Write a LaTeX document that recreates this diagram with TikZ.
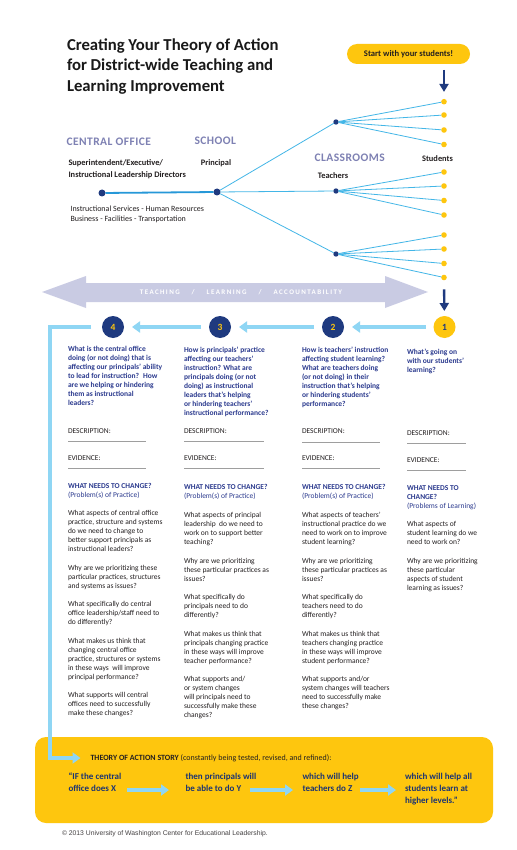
\documentclass[tikz,border=0pt]{standalone}
\usepackage{fontspec}
\setmainfont{Carlito}
\newfontfamily\arialfont{Liberation Sans}
\newfontfamily\spacedfont[LetterSpace=4]{Carlito}
\newfontfamily\bandfont[LetterSpace=20]{Carlito}
\usetikzlibrary{arrows.meta}
\definecolor{navy}{HTML}{1F3A7F}
\definecolor{qblue}{HTML}{2B3A8E}
\definecolor{lav}{HTML}{7E81B3}
\definecolor{bandc}{HTML}{C9CBE3}
\definecolor{gold}{HTML}{FEC60E}
\definecolor{lblue}{HTML}{8FD6F4}
\definecolor{treec}{HTML}{43B6E7}
\definecolor{trunk}{HTML}{2698D8}
\definecolor{txt}{HTML}{231F20}
\tikzset{
  every node/.style={inner sep=0pt, outer sep=0pt},
  bigdot/.style={circle, fill=navy, minimum size=7pt},
  tdot/.style={circle, fill=navy, minimum size=5.4pt},
  sdot/.style={circle, fill=gold, minimum size=5.6pt},
  tline/.style={draw=treec, line width=0.8pt},
  hdr/.style={anchor=west, text=lav, font=\spacedfont\bfseries\fontsize{11.5}{13}\selectfont},
  lbl/.style={text=txt, font=\bfseries\fontsize{8.4}{12}\selectfont},
  numc/.style={circle, minimum size=22pt, font=\bfseries\fontsize{9.5}{11}\selectfont},
  lbarrow/.style={draw=lblue, line width=3.6pt, -{Triangle[length=8pt,width=11pt]}},
  navyarrow/.style={draw=navy, line width=2.4pt, -{Triangle[length=8pt,width=9pt]}},
  quest/.style={anchor=north west, align=left, text=qblue, font=\bfseries\fontsize{7.5}{9}\selectfont},
  body/.style={anchor=north west, align=left, text=txt, font=\fontsize{7.5}{9}\selectfont},
  wntc/.style={anchor=north west, align=left, text=qblue, font=\fontsize{7.5}{9}\selectfont},
  dotline/.style={draw=black!38, line width=0.5pt, dash pattern=on 0.5pt off 0.5pt},
  story/.style={anchor=north west, align=left, text=navy!90!black, font=\bfseries\fontsize{9}{12}\selectfont},
}
\begin{document}
\begin{tikzpicture}[x=1pt,y=-1pt]
\useasboundingbox (0,0) rectangle (516,850);
\fill[white] (0,0) rectangle (516,850);

% title
\node[anchor=north west, align=left, text=black!90, font=\bfseries\fontsize{16.7}{20.4}\selectfont] (title) at (67,38.5)
  {Creating Your Theory of Action\\for District-wide Teaching and\\Learning Improvement};

% start pill
\node[fill=gold, rounded corners=10pt, minimum width=123pt, minimum height=20pt, text=txt,
  font=\bfseries\fontsize{8.6}{10}\selectfont] (start) at (408.5,54) {Start with your students!};

% tree nodes
\node[bigdot] (co) at (102,193) {};
\node[bigdot] (pr) at (217,192) {};
\node[tdot] (t1) at (336,122) {};
\node[tdot] (t2) at (336,191) {};
\node[tdot] (t3) at (336,254) {};
\foreach \i/\yy in {1/101.7,2/115,3/130,4/144.5,5/172,6/186,7/200.5,8/215,9/235,10/249,11/263.5,12/277.5}
  \node[sdot] (s\i) at (444,\yy) {};

\draw[draw=trunk, line width=1.8pt] (co) -- (pr);
\draw[tline] (pr) -- (t1);
\draw[tline] (pr) -- (t2);
\draw[tline] (pr) -- (t3);
\foreach \i in {1,...,4} \draw[tline] (t1) -- (s\i);
\foreach \i in {5,...,8} \draw[tline] (t2) -- (s\i);
\foreach \i in {9,...,12} \draw[tline] (t3) -- (s\i);

\draw[navyarrow, shorten <=6pt, shorten >=7pt] (start.south -| s1) -- (s1);

% headings and labels
\node[hdr] (hco) at (66.5,142) {CENTRAL OFFICE};
\node[hdr] (hsc) at (194.5,141) {SCHOOL};
\node[hdr] (hcl) at (314.5,158) {CLASSROOMS};
\node[lbl, anchor=north west, align=left] (sup) at (68.5,159.5) {Superintendent/Executive/\\Instructional Leadership Directors};
\node[lbl] (prl) at (216,163.5) {Principal};
\node[lbl] (tcl) at (333,175.5) {Teachers};
\node[lbl] (stl) at (437.5,158.5) {Students};
\node[anchor=north west, align=left, text=txt, font=\fontsize{8}{10.5}\selectfont] (svc) at (70.5,205.5)
  {Instructional Services - Human Resources\\Business - Facilities - Transportation};

% band double arrow
\fill[bandc] (42,292) -- (86,276) -- (86,283) -- (385,283) -- (385,276) -- (428,292)
  -- (385,308) -- (385,302) -- (86,302) -- (86,308) -- cycle;
\node[text=white, font=\bandfont\bfseries\fontsize{7}{8}\selectfont] (bandtext) at (241,292.5)
  {TEACHING\hspace{12pt}/\hspace{12pt}LEARNING\hspace{12pt}/\hspace{12pt}ACCOUNTABILITY};

% numbered circles
\node[numc, fill=gold, text=navy] (c1) at (444.5,327) {1};
\node[numc, fill=navy, text=gold] (c2) at (333,327) {2};
\node[numc, fill=navy, text=gold] (c3) at (220,327) {3};
\node[numc, fill=navy, text=gold] (c4) at (113,327) {4};
\draw[navyarrow, shorten <=9pt, shorten >=5pt] (s12) -- (c1);
\draw[lbarrow, shorten <=8pt, shorten >=8pt] (c1) -- (c2);
\draw[lbarrow, shorten <=8pt, shorten >=8pt] (c2) -- (c3);
\draw[lbarrow, shorten <=8pt, shorten >=8pt] (c3) -- (c4);

% yellow story box
\fill[gold, rounded corners=11pt] (35,737) rectangle (493,823);
\node[anchor=west, text=txt, font=\fontsize{8}{10}\selectfont] (storyhead) at (90.5,758)
  {\textbf{THEORY OF ACTION STORY} (constantly being tested, revised, and refined):};
\coordinate (bend) at (50,327);
\draw[draw=lblue, line width=3.2pt, -{Triangle[length=8pt,width=11pt]}, shorten <=11pt, shorten >=10pt]
  (c4.west) -- (bend) |- (storyhead.west);

\node[story] (st1) at (68.5,773) {“IF the central\\office does X};
\node[story] (st2) at (185.5,773) {then principals will\\be able to do Y};
\node[story] (st3) at (302.5,773) {which will help\\teachers do Z};
\node[story] (st4) at (405,773) {which will help all\\students learn at\\higher levels.”};
\coordinate (a1) at (127,790); \coordinate (b1) at (169,790);
\coordinate (a2) at (250,790); \coordinate (b2) at (293,790);
\coordinate (a3) at (360,790); \coordinate (b3) at (396,790);
\draw[lbarrow, line width=3.2pt] (a1) -- (b1);
\draw[lbarrow, line width=3.2pt] (a2) -- (b2);
\draw[lbarrow, line width=3.2pt] (a3) -- (b3);

\node[anchor=west, text=txt!85, font=\arialfont\fontsize{6.8}{8}\selectfont] (copy) at (62,834)
  {© 2013 University of Washington Center for Educational Leadership.};

% ---------- columns ----------
% column 4
\node[quest] (q4) at (68,346.5) {What is the central office\\doing (or not doing) that is\\affecting our principals’ ability\\to lead for instruction?~ How\\are we helping or hindering\\them as instructional\\leaders?};
\node[body] (d4) at (68,428.5) {DESCRIPTION:};
\draw[dotline] (68,441) -- (146,441);
\node[body] (e4) at (68,455.5) {EVIDENCE:};
\draw[dotline] (68,468) -- (146,468);
\node[quest] (w4) at (68,483.5) {WHAT NEEDS TO CHANGE?};
\node[wntc] (p4) at (68,492.5) {(Problem(s) of Practice)};
\node[body] (b4) at (68,510.5) {What aspects of central office\\practice, structure and systems\\do we need to change to\\better support principals as\\instructional leaders?\\[9.5pt]Why are we prioritizing these\\particular practices, structures\\and systems as issues?\\[9.5pt]What specifically do central\\office leadership/staff need to\\do differently?\\[9.5pt]What makes us think that\\changing central office\\practice, structures or systems\\in these ways~ will improve\\principal performance?\\[9.5pt]What supports will central\\offices need to successfully\\make these changes?};

% column 3
\node[quest] (q3) at (184,347.5) {How is principals’ practice\\affecting our teachers’\\instruction? What are\\principals doing (or not\\doing) as instructional\\leaders that’s helping\\or hindering teachers’\\instructional performance?};
\node[body] (d3) at (184,428.5) {DESCRIPTION:};
\draw[dotline] (184,441.5) -- (264,441.5);
\node[body] (e3) at (184,455.5) {EVIDENCE:};
\draw[dotline] (184,468.5) -- (264,468.5);
\node[quest] (w3) at (184,484) {WHAT NEEDS TO CHANGE?};
\node[wntc] (p3) at (184,493) {(Problem(s) of Practice)};
\node[body] (b3) at (184,512.5) {What aspects of principal\\leadership~ do we need to\\work on to support better\\teaching?\\[9.5pt]Why are we prioritizing\\these particular practices as\\issues?\\[9.5pt]What specifically do\\principals need to do\\differently?\\[9.5pt]What makes us think that\\principals changing practice\\in these ways will improve\\teacher performance?\\[9.5pt]What supports and/\\or system changes\\will principals need to\\successfully make these\\changes?};

% column 2
\node[quest] (q2) at (302,347.5) {How is teachers’ instruction\\affecting student learning?\\What are teachers doing\\(or not doing) in their\\instruction that’s helping\\or hindering students’\\performance?};
\node[body] (d2) at (302,428.5) {DESCRIPTION:};
\draw[dotline] (302,442.5) -- (380,442.5);
\node[body] (e2) at (302,455.5) {EVIDENCE:};
\draw[dotline] (302,468.5) -- (380,468.5);
\node[quest] (w2) at (302,484.5) {WHAT NEEDS TO CHANGE?};
\node[wntc] (p2) at (302,493.5) {(Problem(s) of Practice)};
\node[body] (b2) at (302,512.5) {What aspects of teachers’\\instructional practice do we\\need to work on to improve\\student learning?\\[9.5pt]Why are we prioritizing\\these particular practices as\\issues?\\[9.5pt]What specifically do\\teachers need to do\\differently?\\[9.5pt]What makes us think that\\teachers changing practice\\in these ways will improve\\student performance?\\[9.5pt]What supports and/or\\system changes will teachers\\need to successfully make\\these changes?};

% column 1
\node[quest] (q1) at (407,349.5) {What’s going on\\with our students’\\learning?};
\node[body] (d1) at (407,430.5) {DESCRIPTION:};
\draw[dotline] (407,443.5) -- (466,443.5);
\node[body] (e1) at (407,457.5) {EVIDENCE:};
\draw[dotline] (407,470.5) -- (466,470.5);
\node[quest] (w1) at (407,485.5) {WHAT NEEDS TO\\CHANGE?};
\node[wntc] (p1) at (407,503.5) {(Problems of Learning)};
\node[body] (b1) at (407,521.5) {What aspects of\\student learning do we\\need to work on?\\[9.5pt]Why are we prioritizing\\these particular\\aspects of student\\learning as issues?};
\end{tikzpicture}
\end{document}
